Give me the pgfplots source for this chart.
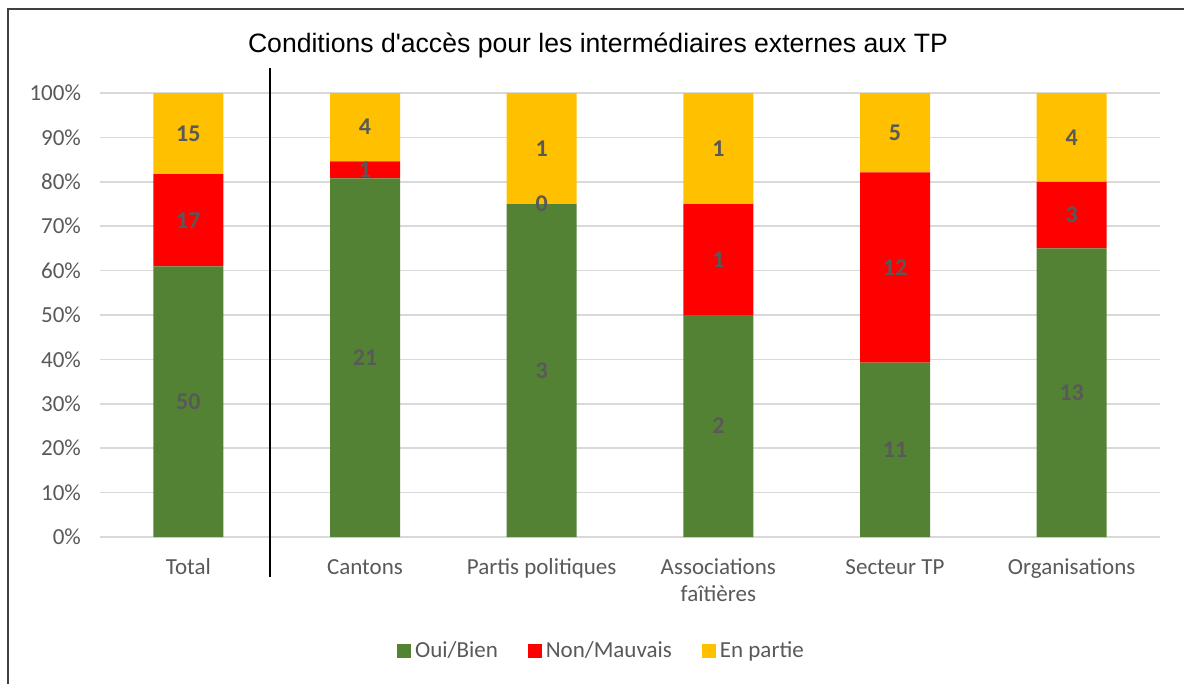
\documentclass[border=0pt]{standalone}
\usepackage{pgfplots}
\pgfplotsset{compat=1.18}
\usepackage{pgfplotstable}
\usepackage{fontspec}
\setmainfont{Carlito}
\newfontfamily\titlefont{Liberation Sans}
\definecolor{cgreen}{HTML}{548235}
\definecolor{cred}{HTML}{FF0000}
\definecolor{cyellow}{HTML}{FFC000}
\definecolor{txtgray}{HTML}{595959}
\definecolor{gridgray}{HTML}{D9D9D9}
\definecolor{framegray}{HTML}{404040}

\pgfplotstableread{
x ok bad part
0 50 17 15
1 21 1 4
2 3 0 1
3 2 1 1
4 11 12 5
5 13 3 4
}\data

\pgfplotsset{
  common/.style={
    at={(50pt,-268.5pt)}, anchor=south west,
    scale only axis, width=530pt, height=222pt,
    xmin=-0.5, xmax=5.5, ymin=0, ymax=100,
    /pgf/number format/assume math mode=true,
  }
}

\begin{document}
\begin{tikzpicture}
\path[use as bounding box] (0pt,0pt) rectangle (592pt,-342pt);
\draw[framegray, line width=0.6pt] (592pt,-4.5pt) -- (4pt,-4.5pt) -- (4pt,-342pt);

\begin{axis}[common,
  ybar stacked, bar width=35pt,
  axis line style={draw=none},
  ymajorgrids, grid style={gridgray, line width=0.75pt},
  ytick={0,10,...,100},
  yticklabel={\pgfmathprintnumber{\tick}\%},
  xtick={0,1,2,3,4,5},
  xticklabels={Total,Cantons,Partis politiques,{Associations\\faîtières},Secteur TP,Organisations},
  typeset ticklabels with strut,
  major tick length=0pt,
  tick label style={font=\fontsize{11.5}{13.5}\selectfont, text=txtgray},
  xticklabel style={align=center, anchor=north, yshift=-6pt},
  yticklabel style={xshift=-6pt},
  legend style={at={(axis description cs:0.474,-0.257)}, anchor=center, draw=none,
    legend columns=3, font=\fontsize{11.5}{13.5}\selectfont, text=txtgray,
    /tikz/every even column/.append style={column sep=13pt}},
  legend image code/.code={\fill[#1] (0pt,-3.5pt) rectangle (7pt,3.5pt);},
  clip=false,
]
\addplot[fill=cgreen, draw=none] table[x=x, y expr={100*\thisrow{ok}/(\thisrow{ok}+\thisrow{bad}+\thisrow{part})}] {\data};
\addplot[fill=cred, draw=none] table[x=x, y expr={100*\thisrow{bad}/(\thisrow{ok}+\thisrow{bad}+\thisrow{part})}] {\data};
\addplot[fill=cyellow, draw=none] table[x=x, y expr={100*\thisrow{part}/(\thisrow{ok}+\thisrow{bad}+\thisrow{part})}] {\data};
\draw[gridgray, line width=0.75pt] (axis cs:-0.5,0) -- (axis cs:5.5,0);
\legend{Oui/Bien, Non/Mauvais, En partie}
\end{axis}

\begin{axis}[common, axis lines=none,
  nodes near coords,
  every node near coord/.append style={anchor=center, font=\fontsize{12}{14}\bfseries, text=txtgray},
  point meta=explicit,
]
\addplot[draw=none, mark=none] table[x=x, meta=ok, y expr={50*\thisrow{ok}/(\thisrow{ok}+\thisrow{bad}+\thisrow{part})}] {\data};
\addplot[draw=none, mark=none] table[x=x, meta=bad, y expr={100*(\thisrow{ok}+0.5*\thisrow{bad})/(\thisrow{ok}+\thisrow{bad}+\thisrow{part})}] {\data};
\addplot[draw=none, mark=none] table[x=x, meta=part, y expr={100*(\thisrow{ok}+\thisrow{bad}+0.5*\thisrow{part})/(\thisrow{ok}+\thisrow{bad}+\thisrow{part})}] {\data};
\end{axis}

\draw[black, line width=1.2pt] (135pt,-34pt) -- (135pt,-288.5pt);
\node[font=\titlefont\fontsize{13.3}{16}\selectfont, text=black] at (299pt,-22.5pt) {Conditions d'accès pour les intermédiaires externes aux TP};
\end{tikzpicture}
\end{document}
